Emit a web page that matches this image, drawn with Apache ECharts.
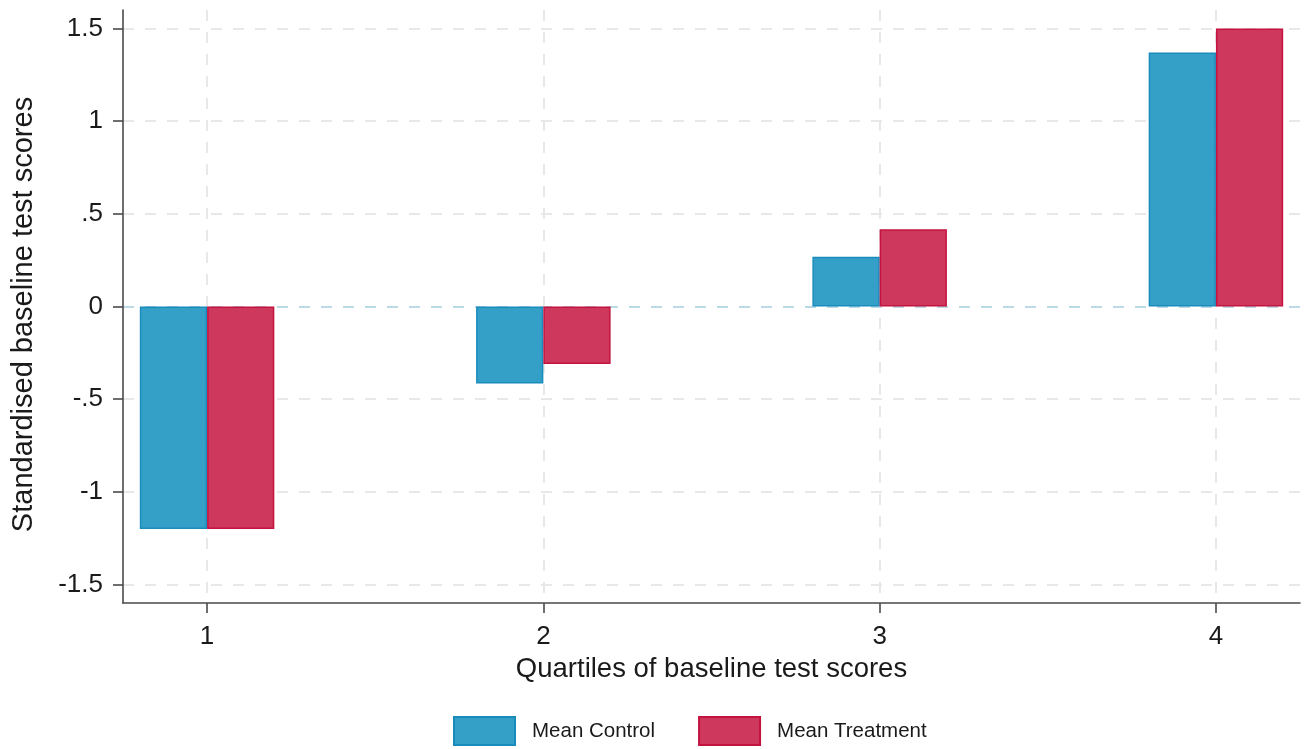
<!DOCTYPE html>
<html>
<head>
<meta charset="utf-8">
<script src="https://cdn.jsdelivr.net/npm/echarts@6/dist/echarts.min.js"></script>
<style>
html,body{margin:0;padding:0;background:#fff;}
#chart{width:1305px;height:749px;}
</style>
</head>
<body>
<div id="chart"></div>
<script>
// ---- data ----
var quartiles = [1, 2, 3, 4];
var meanControl = [-1.2, -0.415, 0.268, 1.37];
var meanTreatment = [-1.2, -0.31, 0.417, 1.5];
var seriesNames = ['Mean Control', 'Mean Treatment'];
var yTickValues = [-1.5, -1, -0.5, 0, 0.5, 1, 1.5];
var yTickLabels = ['-1.5', '-1', '-.5', '0', '.5', '1', '1.5'];
var xTickValues = [1, 2, 3, 4];
var xTickLabels = ['1', '2', '3', '4'];

var chart = echarts.init(document.getElementById('chart'), null, {renderer: 'canvas'});

function pairs(xs, ys) { return xs.map(function (x, i) { return [x, ys[i]]; }); }

var gridColor = '#e8e8e8';
var zeroColor = '#bcdae5';
var axisColor = '#4a4a4a';
var textColor = '#1a1a1a';
var fontFam = '"Liberation Sans", Arial, sans-serif';

var ySplitColors = yTickValues.map(function (v) { return v === 0 ? zeroColor : gridColor; });

var option = {
  animation: false,
  backgroundColor: '#ffffff',
  grid: {left: 123, right: 5, top: 10, bottom: 146, containLabel: false, outerBoundsMode: 'none'},
  legend: {
    left: 448, top: 711,
    itemWidth: 61, itemHeight: 28, itemGap: 43,
    icon: 'rect',
    textStyle: {fontSize: 20.5, color: textColor, fontFamily: fontFam, padding: [0, 0, 0, 12]},
    data: seriesNames
  },
  xAxis: {
    type: 'value', min: 0.75, max: 4.25,
    name: 'Quartiles of baseline test scores',
    nameLocation: 'middle', nameGap: 52,
    nameTextStyle: {fontSize: 27.5, color: textColor, fontFamily: fontFam},
    axisLine: {show: true, onZero: false, lineStyle: {color: axisColor, width: 1.6}},
    axisTick: {show: true, length: 10, customValues: xTickValues, lineStyle: {color: axisColor, width: 1.6}},
    axisLabel: {
      customValues: xTickValues, margin: 21, fontSize: 26, color: textColor, fontFamily: fontFam,
      formatter: function (v) { var i = xTickValues.indexOf(v); return i >= 0 ? xTickLabels[i] : ''; }
    },
    splitLine: {show: true, lineStyle: {color: gridColor, width: 2, type: [11, 11]}}
  },
  yAxis: {
    type: 'value', min: -1.6, max: 1.6,
    name: 'Standardised baseline test scores',
    nameLocation: 'middle', nameGap: 85,
    nameTextStyle: {fontSize: 29, color: textColor, fontFamily: fontFam, padding: [0, 16, 0, 0]},
    axisLine: {show: true, onZero: false, lineStyle: {color: axisColor, width: 1.6}},
    axisTick: {show: true, length: 10, customValues: yTickValues, lineStyle: {color: axisColor, width: 1.6}},
    axisLabel: {
      customValues: yTickValues, margin: 20, fontSize: 26, color: textColor, fontFamily: fontFam,
      formatter: function (v) {
        for (var i = 0; i < yTickValues.length; i++) { if (Math.abs(yTickValues[i] - v) < 1e-9) return yTickLabels[i]; }
        return '';
      }
    },
    splitLine: {show: true, lineStyle: {color: ySplitColors, width: 2, type: [11, 11]}}
  },
  series: [
    {
      name: seriesNames[0], type: 'bar',
      data: pairs(quartiles, meanControl),
      barWidth: '20%', barGap: '0%',
      itemStyle: {color: '#34a0c8', borderColor: '#1a8cbc', borderWidth: 1.5},
      z: 2
    },
    {
      name: seriesNames[1], type: 'bar',
      data: pairs(quartiles, meanTreatment),
      barWidth: '20%', barGap: '0%',
      itemStyle: {color: '#ce385c', borderColor: '#c4133f', borderWidth: 1.5},
      z: 3
    }
  ]
};
chart.setOption(option);
</script>
</body>
</html>
